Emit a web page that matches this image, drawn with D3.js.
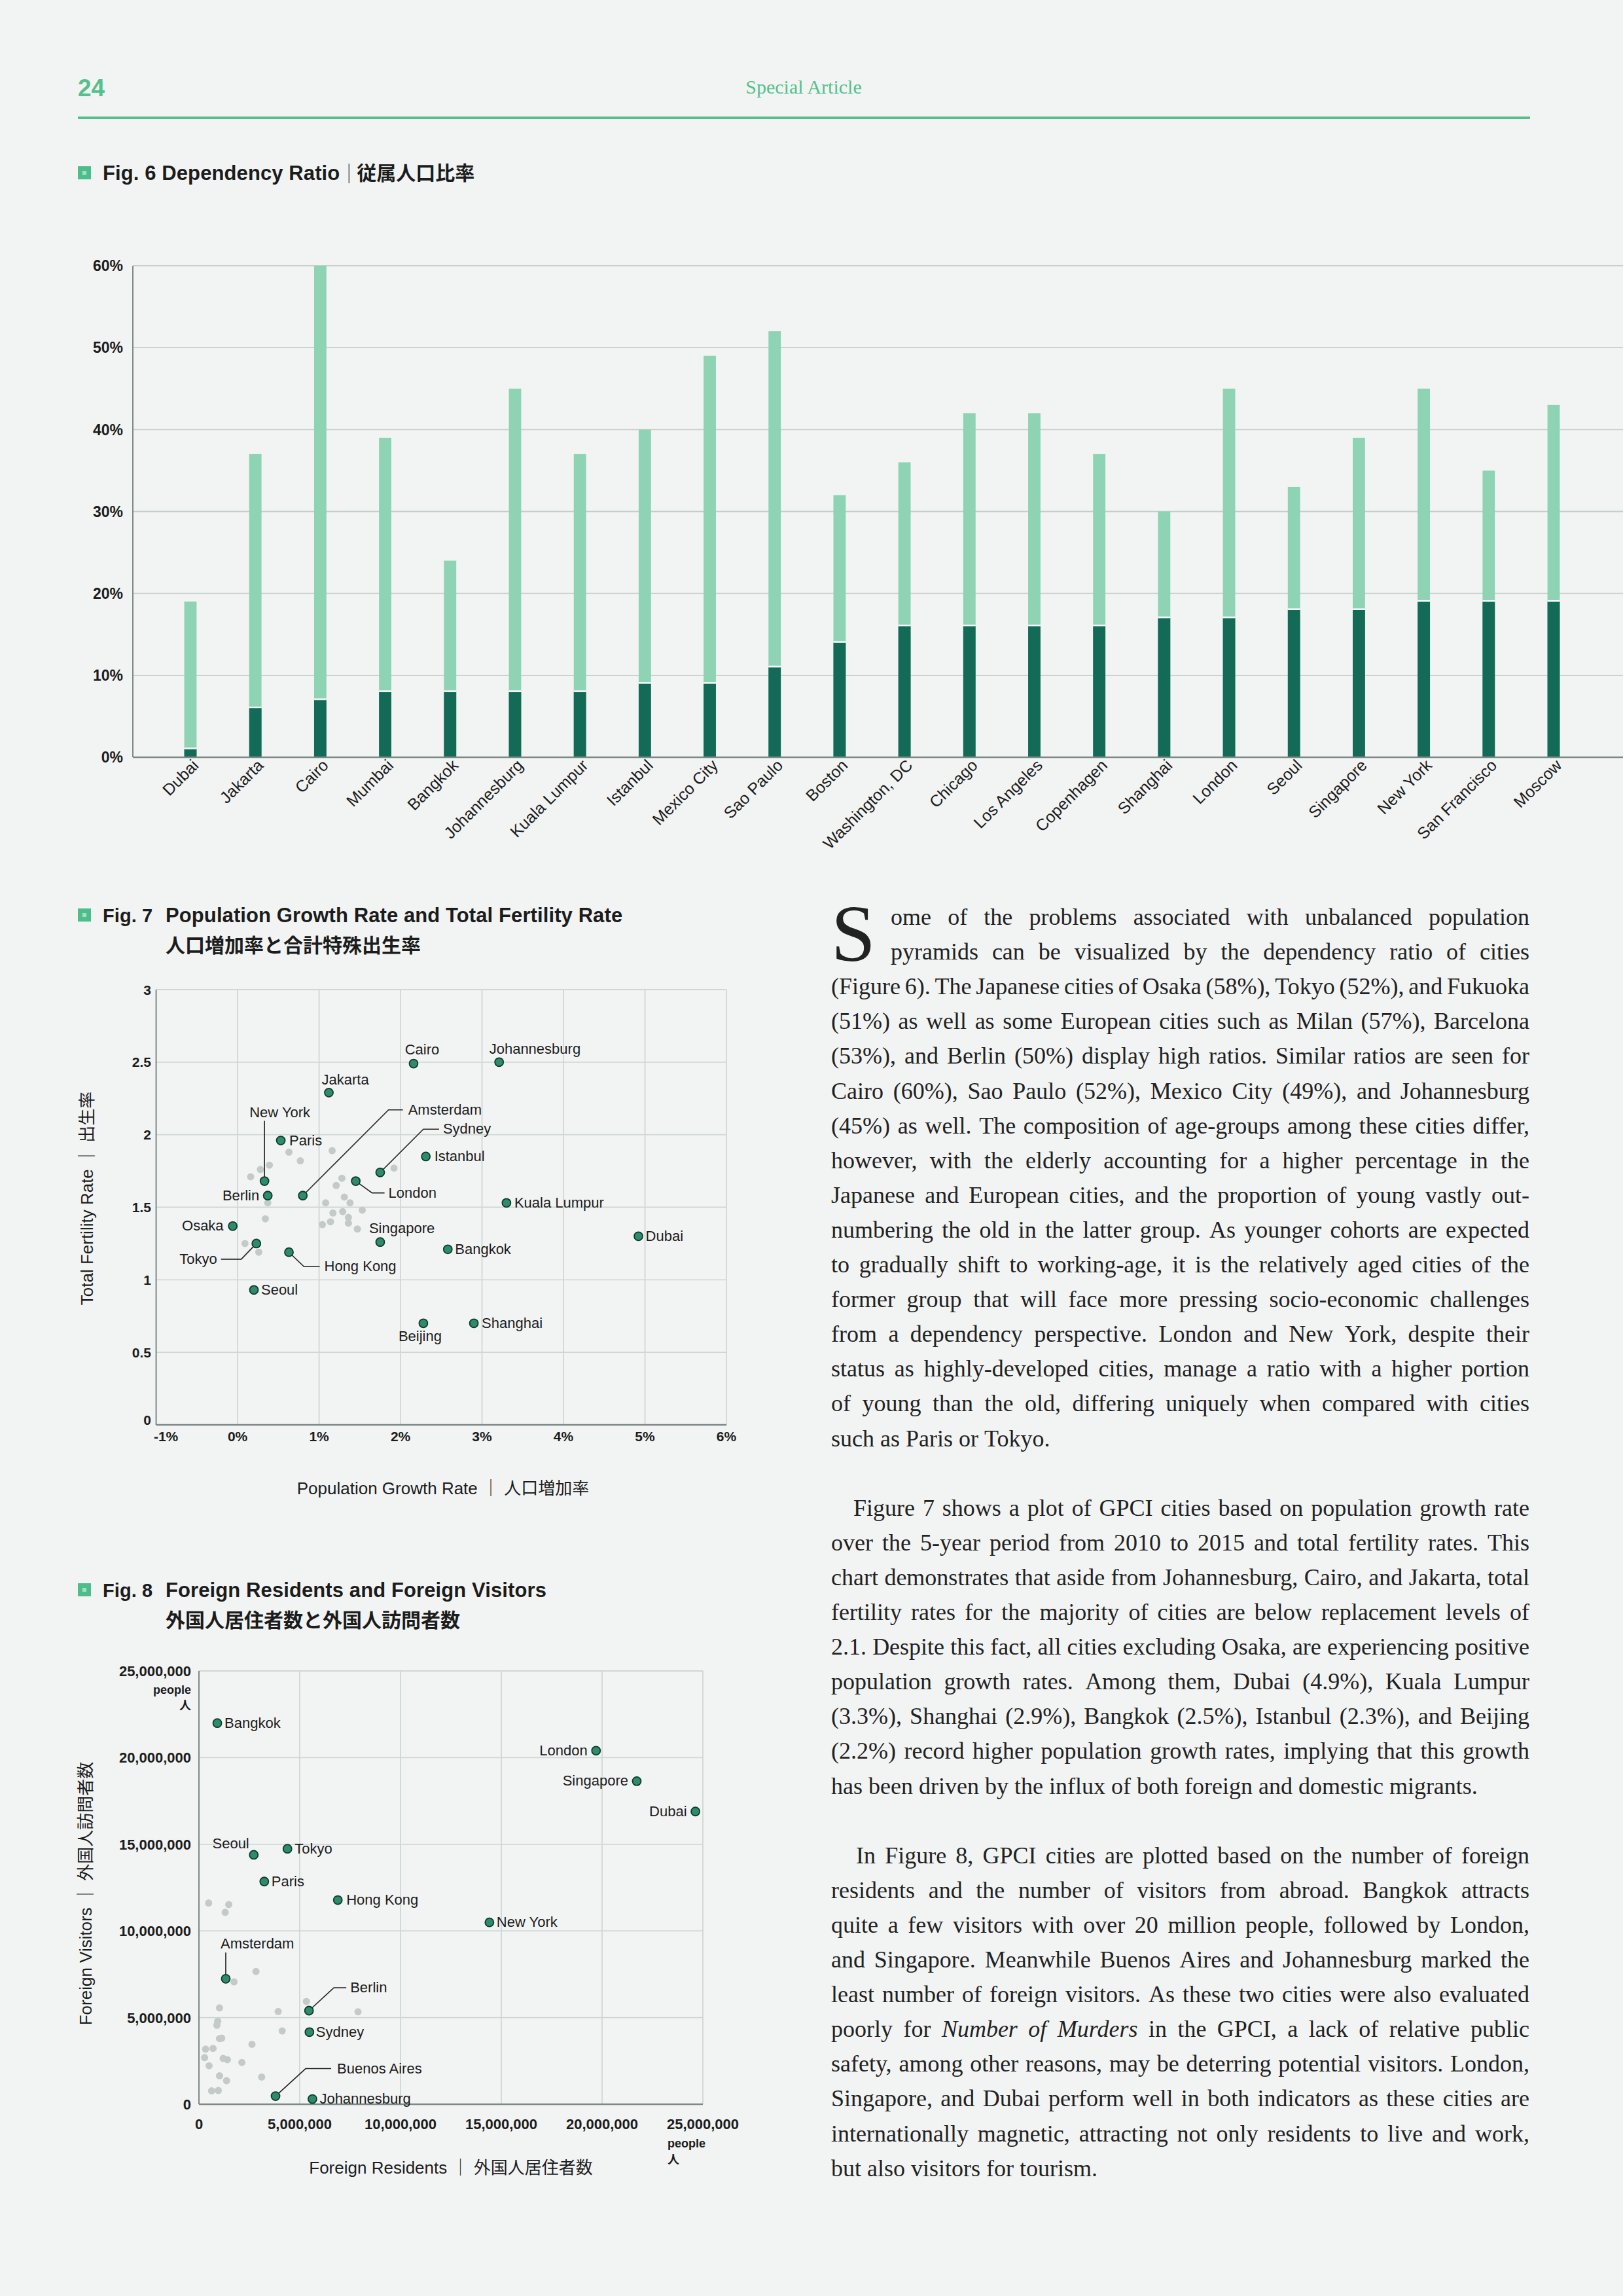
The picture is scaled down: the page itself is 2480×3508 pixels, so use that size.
<!DOCTYPE html>
<html>
<head>
<meta charset="utf-8">
<script src="https://cdn.jsdelivr.net/npm/d3@7"></script>
<style>
  body { margin: 0; background: #f2f4f3; }
  svg { display: block; }
</style>
</head>
<body>
<div id="page"></div>
<script>
// ---- DATA ----
// Fig. 6 dependency ratio (%), total and old-age part
const cities6 = ["Dubai", "Jakarta", "Cairo", "Mumbai", "Bangkok", "Johannesburg", "Kuala Lumpur",
  "Istanbul", "Mexico City", "Sao Paulo", "Boston", "Washington, DC", "Chicago", "Los Angeles",
  "Copenhagen", "Shanghai", "London", "Seoul", "Singapore", "New York", "San Francisco", "Moscow"];
const totalRatio6 = [19, 37, 60, 39, 24, 45, 37, 40, 49, 52, 32, 36, 42, 42, 37, 30, 45, 33, 39, 45, 35, 43];
const oldRatio6 = [1, 6, 7, 8, 8, 8, 8, 9, 9, 11, 14, 16, 16, 16, 16, 17, 17, 18, 18, 19, 19, 19];
const yTicks6 = [0, 10, 20, 30, 40, 50, 60];

// Fig. 7 population growth rate (%) and total fertility rate
const names7 = ["Cairo", "Johannesburg", "Jakarta", "New York", "Paris", "Amsterdam", "Sydney", "Istanbul",
  "London", "Kuala Lumpur", "Dubai", "Osaka", "Berlin", "Tokyo", "Hong Kong", "Singapore", "Bangkok",
  "Seoul", "Beijing", "Shanghai"];
const growth7 = [2.16, 3.21, 1.12, 0.33, 0.53, 0.80, 1.75, 2.31, 1.45, 3.30, 4.92, -0.06, 0.37, 0.23, 0.63, 1.75, 2.58, 0.20, 2.28, 2.90];
const tfr7 = [2.49, 2.50, 2.29, 1.68, 1.96, 1.58, 1.74, 1.85, 1.68, 1.53, 1.30, 1.37, 1.58, 1.25, 1.19, 1.26, 1.21, 0.93, 0.70, 0.70];
const otherGrowth7 = [0.63, 0.77, 1.16, 0.28, 0.39, 0.16, 0.37, 0.34, 1.28, 1.21, 1.31, 1.38, 1.08, 1.53, 1.17, 1.29, 1.36, 1.14, 1.04, 1.36, 1.47, 1.92, 0.09, 0.26];
const otherTfr7 = [1.88, 1.82, 1.89, 1.76, 1.79, 1.71, 1.53, 1.42, 1.70, 1.65, 1.57, 1.53, 1.53, 1.48, 1.46, 1.47, 1.43, 1.40, 1.38, 1.39, 1.35, 1.77, 1.25, 1.19];
const xTicks7 = [-1, 0, 1, 2, 3, 4, 5, 6];
const yTicks7 = [0, 0.5, 1, 1.5, 2, 2.5, 3];

// Fig. 8 foreign residents and foreign visitors (people)
const names8 = ["Bangkok", "London", "Singapore", "Dubai", "Seoul", "Tokyo", "Paris", "Hong Kong", "New York",
  "Amsterdam", "Berlin", "Sydney", "Buenos Aires", "Johannesburg"];
const residents8 = [910000, 19700000, 21720000, 24630000, 2720000, 4390000, 3240000, 6890000, 14410000,
  1330000, 5460000, 5480000, 3800000, 5630000];
const visitors8 = [21990000, 20400000, 18640000, 16890000, 14390000, 14740000, 12850000, 11780000, 10490000,
  7240000, 5400000, 4160000, 470000, 300000];
const otherResidents8 = [480000, 1480000, 1300000, 2830000, 1740000, 1020000, 930000, 890000, 1020000, 1130000, 2630000,
  3930000, 4130000, 5330000, 7890000, 330000, 700000, 280000, 500000, 1200000, 1410000, 2130000, 1020000, 1370000,
  3110000, 630000, 960000];
const otherVisitors8 = [11610000, 11520000, 11070000, 7660000, 7060000, 5560000, 4790000, 4560000, 3790000, 3810000, 3460000,
  5350000, 4230000, 5930000, 5330000, 3180000, 3220000, 2690000, 2220000, 2640000, 2570000, 2410000, 1640000, 1360000,
  1570000, 770000, 790000];
const ticks8 = [0, 5000000, 10000000, 15000000, 20000000, 25000000];

// Article text, line by line as set in the page ("_" marks italic words)
const para1 = [
  "ome of the problems associated with unbalanced population",
  "pyramids can be visualized by the dependency ratio of cities",
  "(Figure 6). The Japanese cities of Osaka (58%), Tokyo (52%), and Fukuoka",
  "(51%) as well as some European cities such as Milan (57%), Barcelona",
  "(53%), and Berlin (50%) display high ratios. Similar ratios are seen for",
  "Cairo (60%), Sao Paulo (52%), Mexico City (49%), and Johannesburg",
  "(45%) as well. The composition of age-groups among these cities differ,",
  "however, with the elderly accounting for a higher percentage in the",
  "Japanese and European cities, and the proportion of young vastly out-",
  "numbering the old in the latter group. As younger cohorts are expected",
  "to gradually shift to working-age, it is the relatively aged cities of the",
  "former group that will face more pressing socio-economic challenges",
  "from a dependency perspective. London and New York, despite their",
  "status as highly-developed cities, manage a ratio with a higher portion",
  "of young than the old, differing uniquely when compared with cities",
  "such as Paris or Tokyo."
];
const para2 = [
  "Figure 7 shows a plot of GPCI cities based on population growth rate",
  "over the 5-year period from 2010 to 2015 and total fertility rates. This",
  "chart demonstrates that aside from Johannesburg, Cairo, and Jakarta, total",
  "fertility rates for the majority of cities are below replacement levels of",
  "2.1. Despite this fact, all cities excluding Osaka, are experiencing positive",
  "population growth rates. Among them, Dubai (4.9%), Kuala Lumpur",
  "(3.3%), Shanghai (2.9%), Bangkok (2.5%), Istanbul (2.3%), and Beijing",
  "(2.2%) record higher population growth rates, implying that this growth",
  "has been driven by the influx of both foreign and domestic migrants."
];
const para3 = [
  "In Figure 8, GPCI cities are plotted based on the number of foreign",
  "residents and the number of visitors from abroad. Bangkok attracts",
  "quite a few visitors with over 20 million people, followed by London,",
  "and Singapore. Meanwhile Buenos Aires and Johannesburg marked the",
  "least number of foreign visitors. As these two cities were also evaluated",
  "poorly for _Number _of _Murders in the GPCI, a lack of relative public",
  "safety, among other reasons, may be deterring potential visitors. London,",
  "Singapore, and Dubai perform well in both indicators as these cities are",
  "internationally magnetic, attracting not only residents to live and work,",
  "but also visitors for tourism."
];

// ---- LABEL LAYOUT (offsets from the point, px) ----
const labels7 = {
  "Cairo": { dx: 13, dy: -14, a: "middle" },
  "Johannesburg": { dx: -15, dy: -13 },
  "Jakarta": { dx: -11, dy: -12 },
  "New York": { dx: -23, dy: -98, leader: [[0, 0], [0, -92]] },
  "Paris": { dx: 13, dy: 7 },
  "Amsterdam": { dx: 161, dy: -124, leader: [[0, 0], [131, -131], [153, -131]] },
  "Sydney": { dx: 96, dy: -59, leader: [[0, 0], [66, -66], [90, -66]] },
  "Istanbul": { dx: 13, dy: 7 },
  "London": { dx: 50, dy: 25, leader: [[0, 0], [25, 18], [44, 18]] },
  "Kuala Lumpur": { dx: 12, dy: 7 },
  "Dubai": { dx: 11, dy: 7 },
  "Osaka": { dx: -14, dy: 7, a: "end" },
  "Berlin": { dx: -13, dy: 7, a: "end" },
  "Tokyo": { dx: -60, dy: 31, a: "end", leader: [[0, 0], [-23, 24], [-54, 24]] },
  "Hong Kong": { dx: 54, dy: 29, leader: [[0, 0], [23, 22], [47, 22]] },
  "Singapore": { dx: -17, dy: -14 },
  "Bangkok": { dx: 11, dy: 7 },
  "Seoul": { dx: 11, dy: 7 },
  "Beijing": { dx: -5, dy: 27, a: "middle" },
  "Shanghai": { dx: 12, dy: 7 }
};
const labels8 = {
  "Bangkok": { dx: 11, dy: 7 },
  "London": { dx: -13, dy: 7, a: "end" },
  "Singapore": { dx: -13, dy: 7, a: "end" },
  "Dubai": { dx: -13, dy: 7, a: "end" },
  "Seoul": { dx: -7, dy: -10, a: "end" },
  "Tokyo": { dx: 11, dy: 7 },
  "Paris": { dx: 11, dy: 7 },
  "Hong Kong": { dx: 13, dy: 7 },
  "New York": { dx: 11, dy: 7 },
  "Amsterdam": { dx: -8, dy: -46, leader: [[0, 0], [0, -40]] },
  "Berlin": { dx: 63, dy: -28, leader: [[0, 0], [38, -35], [57, -35]] },
  "Sydney": { dx: 10, dy: 7 },
  "Buenos Aires": { dx: 94, dy: -35, leader: [[0, 0], [46, -42], [85, -42]] },
  "Johannesburg": { dx: 11, dy: 7 }
};

// ---- STYLE ----
const W = 2480, H = 3508;
const sans = "'Liberation Sans', Arial, 'Noto Sans CJK JP', sans-serif";
const serif = "'Liberation Serif', 'Times New Roman', serif";
const green = "#56bf8c";
const gridColor = "#cfd7d4";
const axisColor = "#7d8986";
const ink = "#1c1c1c";

const svg = d3.select("#page").append("svg")
  .attr("width", W).attr("height", H)
  .attr("font-family", sans);

svg.append("rect").attr("width", W).attr("height", H).attr("fill", "#f2f4f3");

// Header
svg.append("text").attr("x", 119).attr("y", 147)
  .attr("font-family", "'Liberation Sans Narrow', " + sans)
  .attr("font-weight", "bold").attr("font-size", 37).attr("fill", green).text("24");
svg.append("text").attr("x", 1228).attr("y", 143).attr("text-anchor", "middle")
  .attr("font-family", serif).attr("font-size", 30).attr("fill", green).text("Special Article");
svg.append("line").attr("x1", 119).attr("x2", 2338).attr("y1", 180).attr("y2", 180)
  .attr("stroke", green).attr("stroke-width", 4);

// Figure title with green square marker
function figTitle(y, fig, en, jp, jpSameLine) {
  svg.append("rect").attr("x", 119).attr("y", y - 21).attr("width", 20).attr("height", 20).attr("fill", "#4dbd8c");
  svg.append("rect").attr("x", 126).attr("y", y - 14).attr("width", 6).attr("height", 6).attr("fill", "#a6dec3");
  const tt = (x, yy, s, size) => svg.append("text").attr("x", x).attr("y", yy).attr("font-size", size)
    .attr("letter-spacing", 0.1).attr("font-weight", "bold").attr("fill", ink).text(s);
  const jt = (x, yy) => svg.append("text").attr("x", x).attr("y", yy).attr("font-size", 30)
    .attr("font-family", "'Noto Sans CJK JP'").attr("font-weight", "bold").attr("fill", ink).text(jp);
  if (jpSameLine) {
    const t = tt(157, y, fig + " " + en, 31);
    const w = t.node().getComputedTextLength();
    svg.append("line").attr("x1", 157 + w + 14).attr("x2", 157 + w + 14)
      .attr("y1", y - 25).attr("y2", y + 5).attr("stroke", "#555").attr("stroke-width", 1.5);
    jt(157 + w + 26, y);
  } else {
    tt(157, y, fig, 29);
    tt(253, y, en, 31);
    jt(253, y + 46);
  }
}

// ---- FIG 6 ----
figTitle(275, "Fig. 6", "Dependency Ratio", "従属人口比率", true);

const p6 = { left: 203, right: 2480, top: 406, bottom: 1157 };
const x6 = d3.scaleBand().domain(cities6).range([241.4, 2423.6]).paddingInner(0.81).paddingOuter(0.405);
const y6 = d3.scaleLinear().domain([0, 60]).range([p6.bottom, p6.top]);
const g6 = svg.append("g");

g6.selectAll(".grid6").data(yTicks6.filter(d => d > 0)).join("line")
  .attr("x1", p6.left).attr("x2", p6.right).attr("y1", d => y6(d)).attr("y2", d => y6(d))
  .attr("stroke", "#c5cecb").attr("stroke-width", 1.8);

g6.selectAll(".bar-total").data(cities6).join("rect")
  .attr("x", d => x6(d)).attr("width", x6.bandwidth())
  .attr("y", (d, i) => y6(totalRatio6[i])).attr("height", (d, i) => y6(0) - y6(totalRatio6[i]))
  .attr("fill", "#8dd3b4");
g6.selectAll(".bar-old").data(cities6).join("rect")
  .attr("x", d => x6(d)).attr("width", x6.bandwidth())
  .attr("y", (d, i) => y6(oldRatio6[i])).attr("height", (d, i) => y6(0) - y6(oldRatio6[i]))
  .attr("fill", "#136a56");
g6.selectAll(".bar-sep").data(cities6).join("line")
  .attr("x1", d => x6(d)).attr("x2", d => x6(d) + x6.bandwidth())
  .attr("y1", (d, i) => y6(oldRatio6[i]) - 1).attr("y2", (d, i) => y6(oldRatio6[i]) - 1)
  .attr("stroke", "#f7faf9").attr("stroke-width", 2.5);

g6.append("line").attr("x1", p6.left).attr("x2", p6.left).attr("y1", p6.top).attr("y2", p6.bottom)
  .attr("stroke", axisColor).attr("stroke-width", 2);
g6.append("line").attr("x1", p6.left).attr("x2", p6.right).attr("y1", p6.bottom).attr("y2", p6.bottom)
  .attr("stroke", axisColor).attr("stroke-width", 2.5);

g6.selectAll(".ytick6").data(yTicks6).join("text")
  .attr("x", 188).attr("y", d => y6(d)).attr("dy", "0.36em").attr("text-anchor", "end")
  .attr("font-size", 23).attr("font-weight", "bold").attr("fill", ink).text(d => d + "%");

g6.selectAll(".xlab6").data(cities6).join("text")
  .attr("transform", d => `translate(${x6(d) + x6.bandwidth() / 2 + 14},${p6.bottom + 14}) rotate(-45)`)
  .attr("text-anchor", "end").attr("font-size", 25).attr("fill", ink).text(d => d);

// ---- Scatter helper ----
function scatter(cfg) {
  const g = svg.append("g");
  const { x, y, xTicks, yTicks, box } = cfg;
  g.selectAll(".vg").data(xTicks.slice(1)).join("line")
    .attr("x1", d => x(d)).attr("x2", d => x(d)).attr("y1", box.top).attr("y2", box.bottom)
    .attr("stroke", gridColor).attr("stroke-width", 1.8);
  g.selectAll(".hg").data(yTicks.slice(1)).join("line")
    .attr("x1", box.left).attr("x2", box.right).attr("y1", d => y(d)).attr("y2", d => y(d))
    .attr("stroke", gridColor).attr("stroke-width", 1.8);
  g.append("line").attr("x1", box.left).attr("x2", box.left).attr("y1", box.top).attr("y2", box.bottom)
    .attr("stroke", axisColor).attr("stroke-width", 2);
  g.append("line").attr("x1", box.left).attr("x2", box.right).attr("y1", box.bottom).attr("y2", box.bottom)
    .attr("stroke", axisColor).attr("stroke-width", 2.5);

  // other cities in grey
  g.selectAll(".other").data(cfg.ox).join("circle")
    .attr("cx", d => x(d)).attr("cy", (d, i) => y(cfg.oy[i])).attr("r", 5.5).attr("fill", "#c3cac7");

  // leaders, points, labels
  cfg.names.forEach((n, i) => {
    const px = x(cfg.vx[i]), py = y(cfg.vy[i]);
    const L = cfg.labels[n];
    if (L.leader) {
      g.append("polyline").attr("points", L.leader.map(p => [px + p[0], py + p[1]].join(",")).join(" "))
        .attr("fill", "none").attr("stroke", "#222").attr("stroke-width", 1.6);
    }
  });
  g.selectAll(".pt").data(cfg.names).join("circle")
    .attr("cx", (d, i) => x(cfg.vx[i])).attr("cy", (d, i) => y(cfg.vy[i])).attr("r", 6.5)
    .attr("fill", "#2e8c6b").attr("stroke", "#0f3a2e").attr("stroke-width", 1.8);
  g.selectAll(".lab").data(cfg.names).join("text")
    .attr("x", (d, i) => x(cfg.vx[i]) + cfg.labels[d].dx)
    .attr("y", (d, i) => y(cfg.vy[i]) + cfg.labels[d].dy)
    .attr("text-anchor", d => cfg.labels[d].a || "start")
    .attr("font-size", 22).attr("fill", ink).text(d => d);
  return g;
}

// ---- FIG 7 ----
figTitle(1409, "Fig. 7", "Population Growth Rate and Total Fertility Rate", "人口増加率と合計特殊出生率", false);

const box7 = { left: 238.6, right: 1110, top: 1512, bottom: 2177 };
const x7 = d3.scaleLinear().domain([-1, 6]).range([box7.left, box7.right]);
const y7 = d3.scaleLinear().domain([0, 3]).range([box7.bottom, box7.top]);
const g7 = scatter({
  x: x7, y: y7, xTicks: xTicks7, yTicks: yTicks7, box: box7,
  names: names7, vx: growth7, vy: tfr7, ox: otherGrowth7, oy: otherTfr7, labels: labels7
});
g7.selectAll(".yt7").data(yTicks7).join("text")
  .attr("x", 231).attr("y", d => y7(d) - (d === 0 ? 8 : 0)).attr("dy", "0.36em").attr("text-anchor", "end")
  .attr("font-size", 21).attr("font-weight", "bold").attr("fill", ink).text(d => d);
g7.selectAll(".xt7").data(xTicks7).join("text")
  .attr("x", d => x7(d) + (d === -1 ? 15 : 0)).attr("y", 2202).attr("text-anchor", "middle")
  .attr("font-size", 21).attr("font-weight", "bold").attr("fill", ink).text(d => d + "%");
g7.append("text").attr("x", 677).attr("y", 2283).attr("text-anchor", "middle")
  .attr("font-size", 26).attr("fill", ink).text("Population Growth Rate ｜ 人口増加率");
g7.append("text").attr("transform", "translate(142,1831) rotate(-90)").attr("text-anchor", "middle")
  .attr("font-size", 26).attr("fill", ink).text("Total Fertility Rate ｜ 出生率");

// ---- FIG 8 ----
figTitle(2440, "Fig. 8", "Foreign Residents and Foreign Visitors", "外国人居住者数と外国人訪問者数", false);

const box8 = { left: 304, right: 1074, top: 2553, bottom: 3215 };
const x8 = d3.scaleLinear().domain([0, 25000000]).range([box8.left, box8.right]);
const y8 = d3.scaleLinear().domain([0, 25000000]).range([box8.bottom, box8.top]);
const g8 = scatter({
  x: x8, y: y8, xTicks: ticks8, yTicks: ticks8, box: box8,
  names: names8, vx: residents8, vy: visitors8, ox: otherResidents8, oy: otherVisitors8, labels: labels8
});
const fmt = d3.format(",");
g8.selectAll(".yt8").data(ticks8).join("text")
  .attr("x", 292).attr("y", d => y8(d)).attr("dy", "0.36em").attr("text-anchor", "end")
  .attr("font-size", 22).attr("font-weight", "bold").attr("fill", ink).text(d => fmt(d));
g8.selectAll(".xt8").data(ticks8).join("text")
  .attr("x", d => x8(d)).attr("y", 3253).attr("text-anchor", "middle")
  .attr("font-size", 22).attr("font-weight", "bold").attr("fill", ink).text(d => fmt(d));
// unit notes
[["people", 2588], ["人", 2612]].forEach(([t, yy]) => {
  g8.append("text").attr("x", 292).attr("y", yy).attr("text-anchor", "end")
    .attr("font-size", 18).attr("font-weight", "bold").attr("fill", ink).text(t);
});
[["people", 3281], ["人", 3306]].forEach(([t, yy]) => {
  g8.append("text").attr("x", 1020).attr("y", yy)
    .attr("font-size", 18).attr("font-weight", "bold").attr("fill", ink).text(t);
});
g8.append("text").attr("x", 689).attr("y", 3321).attr("text-anchor", "middle")
  .attr("font-size", 26).attr("fill", ink).text("Foreign Residents ｜ 外国人居住者数");
g8.append("text").attr("transform", "translate(140,2893) rotate(-90)").attr("text-anchor", "middle")
  .attr("font-size", 26).attr("fill", ink).text("Foreign Visitors ｜ 外国人訪問者数");

// ---- ARTICLE TEXT ----
const col = { left: 1270, right: 2337 };
const fs = 36, lh = 53.1;
const tg = svg.append("g").attr("font-family", serif).attr("font-size", fs).attr("fill", "#222");

function setLine(str, x0, y, justify) {
  const words = str.split(" ");
  const els = words.map(w => tg.append("text").attr("y", y)
    .attr("font-style", w.startsWith("_") ? "italic" : null).text(w.replace(/^_/, "")));
  const widths = els.map(e => e.node().getComputedTextLength());
  const sum = d3.sum(widths);
  let gap = justify && words.length > 1 ? (col.right - x0 - sum) / (words.length - 1) : fs * 0.25;
  gap = Math.max(gap, fs * 0.12);
  let x = x0;
  els.forEach((e, i) => { e.attr("x", x); x += widths[i] + gap; });
}
function setPara(lines, y0, firstX, dropLines) {
  lines.forEach((ln, i) => {
    const x0 = i < dropLines ? firstX : col.left;
    setLine(ln, x0, y0 + i * lh, i < lines.length - 1);
  });
}

const y0 = 1413;
// drop cap, kept as a compact text box so it does not reach into line 3
tg.append("text").attr("x", col.left).attr("y", y0 + lh + 2).attr("font-size", 122)
  .style("dominant-baseline", "alphabetic").text("S");
setPara(para1, y0, 1361, 2);
setPara(para2, y0 + 17 * lh, col.left + 34, 1);
setPara(para3, y0 + 27 * lh, col.left + 38, 1);
</script>
</body>
</html>
